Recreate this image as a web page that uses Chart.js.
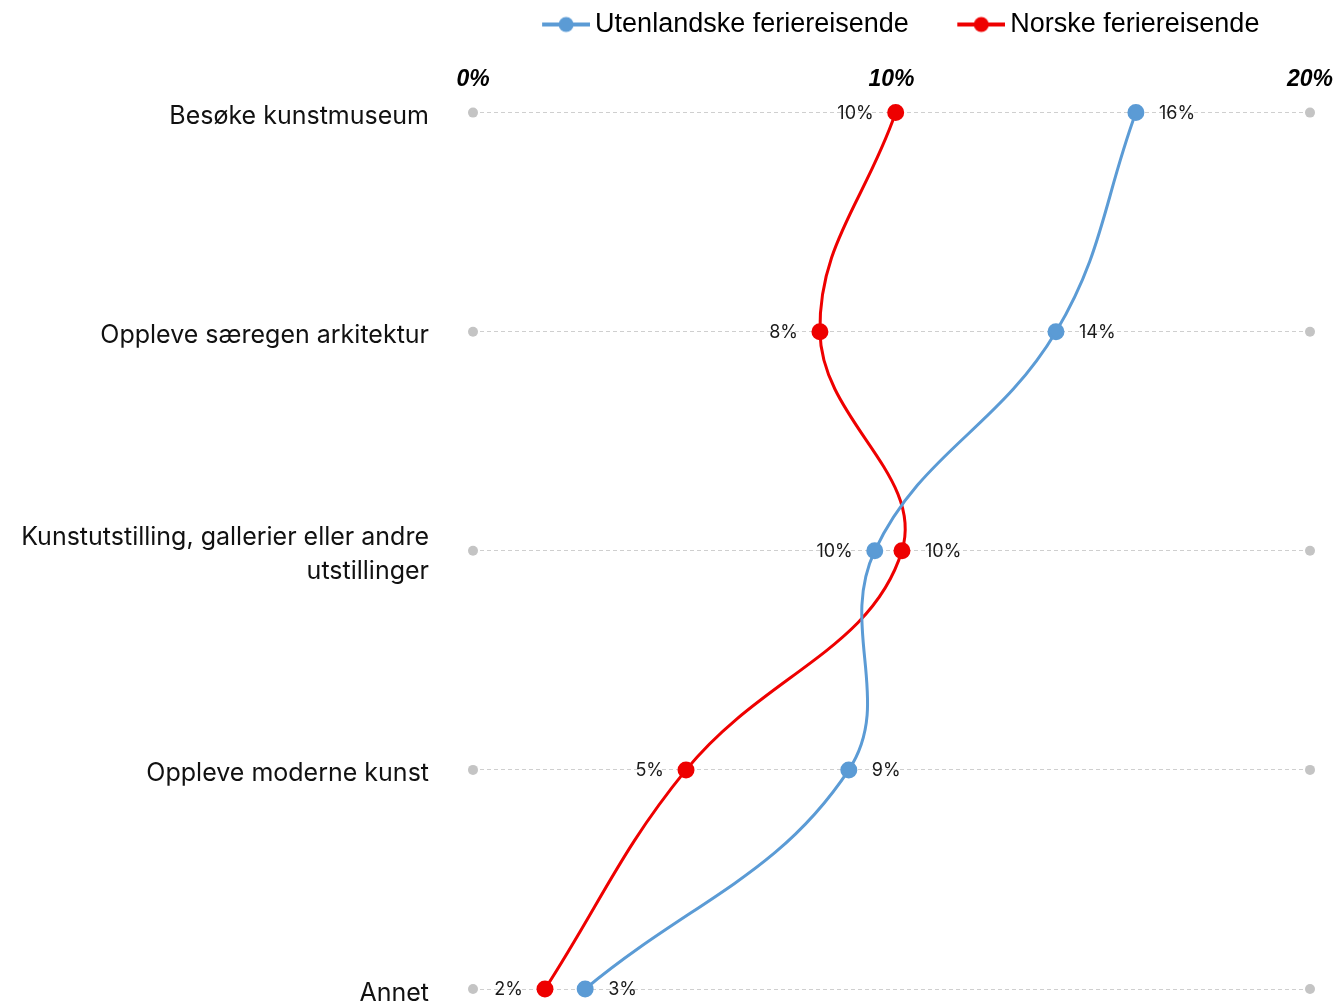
<!DOCTYPE html>
<html>
<head>
<meta charset="utf-8">
<script src="https://cdn.jsdelivr.net/npm/chart.js@4.4.1/dist/chart.umd.min.js"></script>
<style>
  html, body { margin: 0; padding: 0; background: #fff; overflow: hidden; }
  #wrap { width: 1339px; height: 1002px; position: relative; }
</style>
</head>
<body>
<div id="wrap"><canvas id="c"></canvas></div>
<script>
const categories = [
  'Besøke kunstmuseum',
  'Oppleve særegen arkitektur',
  ['Kunstutstilling, gallerier eller andre', 'utstillinger'],
  'Oppleve moderne kunst',
  'Annet'
];
const seriesNames = ['Utenlandske feriereisende', 'Norske feriereisende'];
const utenlandske = [15.84, 13.93, 9.6, 8.98, 2.68];
const norske = [10.1, 8.29, 10.25, 5.09, 1.72];
const xTicks = [0, 10, 20];

const BLUE = '#5B9BD5';
const RED = '#EE0000';

const LEG_W = 58;       // legend box width
const LEG_FONT = 27;
function legendIcon(color) {
  const C = LEG_W + 17;
  const c = document.createElement('canvas');
  c.width = C; c.height = 18;
  const g = c.getContext('2d');
  g.strokeStyle = color; g.lineWidth = 4;
  g.beginPath(); g.moveTo(C - 48, 9); g.lineTo(C, 9); g.stroke();
  g.fillStyle = color;
  g.beginPath(); g.arc(C - 24, 9, 7.5, 0, Math.PI * 2); g.fill();
  return c;
}

const endDots = {
  id: 'endDots',
  beforeDatasetsDraw(chart) {
    const xs = chart.scales.x, ys = chart.scales.y, ctx = chart.ctx;
    ctx.save();
    ctx.fillStyle = '#c4c4c4';
    categories.forEach((_, i) => {
      const y = ys.getPixelForValue(i);
      [xs.min, xs.max].forEach(v => {
        ctx.beginPath();
        ctx.arc(xs.getPixelForValue(v), y, 5, 0, Math.PI * 2);
        ctx.fill();
      });
    });
    ctx.restore();
  }
};

const valueLabels = {
  id: 'valueLabels',
  afterDatasetsDraw(chart) {
    const ctx = chart.ctx;
    const m0 = chart.getDatasetMeta(0), m1 = chart.getDatasetMeta(1);
    ctx.save();
    ctx.font = '18px Inter';
    ctx.fillStyle = '#1a1a1a';
    ctx.textBaseline = 'middle';
    categories.forEach((_, i) => {
      const a = utenlandske[i], b = norske[i];
      const pts = [[m0.data[i], a], [m1.data[i], b]];
      pts.forEach(([p, v], k) => {
        const other = k === 0 ? b : a;
        const right = v >= other;
        const txt = Math.round(v) + '%';
        ctx.textAlign = right ? 'left' : 'right';
        ctx.fillText(txt, p.x + (right ? 23 : -22), p.y + 1);
      });
    });
    ctx.restore();
  }
};

new Chart(document.getElementById('c'), {
  type: 'line',
  data: {
    labels: categories,
    datasets: [
      { label: seriesNames[0], data: utenlandske, borderColor: BLUE, backgroundColor: BLUE,
        pointBackgroundColor: BLUE, pointBorderColor: BLUE, borderWidth: 3, pointRadius: 7,
        tension: 0.4, clip: false },
      { label: seriesNames[1], data: norske, borderColor: RED, backgroundColor: RED,
        pointBackgroundColor: RED, pointBorderColor: RED, borderWidth: 3, pointRadius: 7,
        tension: 0.4, clip: false }
    ]
  },
  options: {
    indexAxis: 'y',
    responsive: true,
    maintainAspectRatio: false,
    animation: false,
    layout: { padding: { top: -19, right: 29, bottom: 13, left: 0 } },
    plugins: {
      tooltip: { enabled: false },
      legend: {
        position: 'top',
        fullSize: false,
        labels: {
          color: '#000',
          font: { family: 'Liberation Sans', size: LEG_FONT },
          usePointStyle: true,
          pointStyleWidth: LEG_W,
          padding: 30,
          generateLabels(chart) {
            return chart.data.datasets.map((ds, i) => ({
              text: ds.label,
              fillStyle: ds.borderColor,
              strokeStyle: ds.borderColor,
              pointStyle: legendIcon(ds.borderColor),
              fontColor: '#000',
              lineWidth: 0,
              hidden: false,
              datasetIndex: i
            }));
          }
        }
      }
    },
    scales: {
      x: {
        position: 'top',
        min: 0, max: 20,
        afterBuildTicks(scale) { scale.ticks = xTicks.map(v => ({ value: v })); },
        afterFit(scale) { scale.paddingLeft = 0; scale.paddingRight = 0; scale.height += 7; },
        ticks: {
          callback: v => v + '%',
          color: '#000',
          font: { family: 'Liberation Sans', size: 23, weight: 'bold', style: 'italic' },
          padding: 11,
          maxRotation: 0
        },
        grid: { display: false },
        border: { display: false }
      },
      y: {
        offset: false,
        afterFit(scale) { scale.width = 473; scale.paddingTop = 0; scale.paddingBottom = 0; },
        ticks: {
          color: '#111',
          font: { family: 'Inter', size: 25, lineHeight: 1.36 },
          padding: 44,
          labelOffset: 4
        },
        grid: { color: '#cfcfcf', lineWidth: 1, drawTicks: false },
        border: { display: false, dash: [4, 3] }
      }
    }
  },
  plugins: [endDots, valueLabels]
});
</script>
</body>
</html>
